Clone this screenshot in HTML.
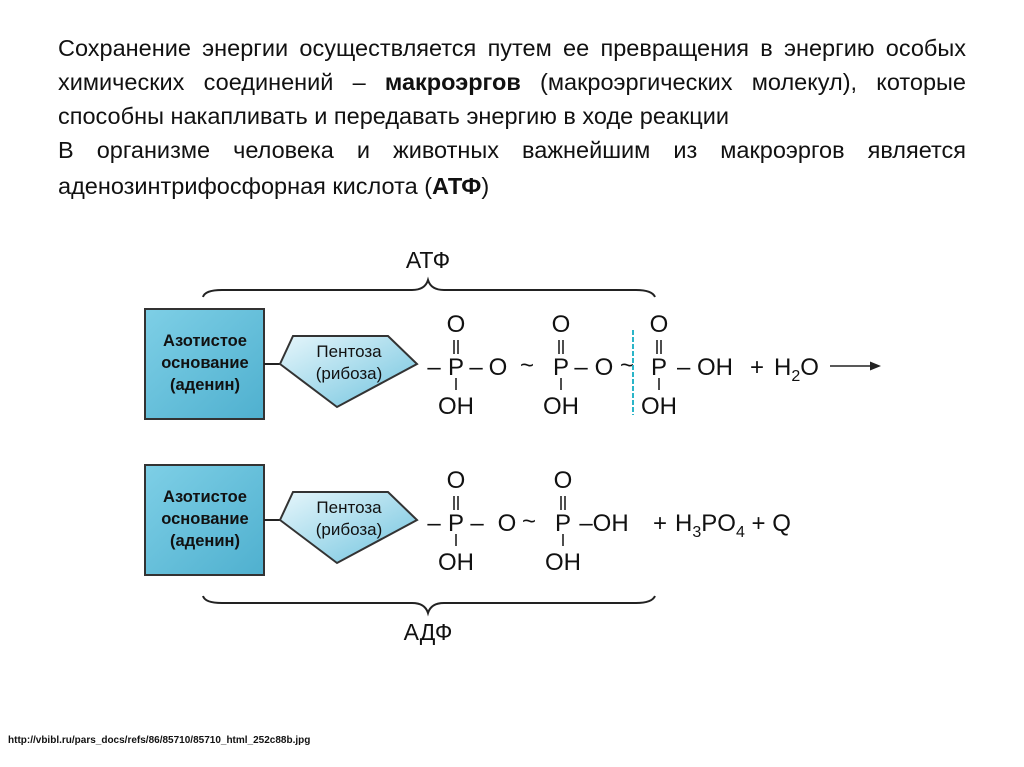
<!DOCTYPE html>
<html><head><meta charset="utf-8"><style>
body{margin:0;width:1024px;height:767px;background:#fff;overflow:hidden;font-family:"Liberation Sans",sans-serif}
.l{position:absolute;left:58px;width:908px;font-size:23.5px;line-height:34px;color:#111;white-space:nowrap}
.j{text-align:justify;text-align-last:justify;white-space:normal}
.url{position:absolute;left:8px;top:735px;font-size:10px;font-weight:bold;color:#111}
svg{position:absolute;left:0;top:0}
svg text{font-family:"Liberation Sans",sans-serif;fill:#111}
</style></head><body>
<div class="l j" style="top:31px">Сохранение энергии осуществляется путем ее превращения в энергию особых</div>
<div class="l j" style="top:65px">химических соединений – <b>макроэргов</b> (макроэргических молекул), которые</div>
<div class="l" style="top:99px">способны накапливать и передавать энергию в ходе реакции</div>
<div class="l j" style="top:133px">В организме человека и животных важнейшим из макроэргов является</div>
<div class="l" style="top:169px">аденозинтрифосфорная кислота (<b>АТФ</b>)</div>
<svg width="1024" height="767" viewBox="0 0 1024 767">
<defs><linearGradient id="g" x1="0" y1="0" x2="1" y2="1"><stop offset="0" stop-color="#7ecfe6"/><stop offset="1" stop-color="#4fb0cf"/></linearGradient>
<linearGradient id="g2" x1="0" y1="0" x2="1" y2="1"><stop offset="0" stop-color="#e6f6fb"/><stop offset="1" stop-color="#6fc3de"/></linearGradient></defs>
<g fill="none" stroke="#222" stroke-width="2">
<path d="M203 297 Q205 290 222 290 L412 290 Q425 290 428 280 Q431 290 444 290 L636 290 Q652 290 655 297"/>
<path d="M203 596 Q205 603 222 603 L412 603 Q425 603 428 613 Q431 603 444 603 L636 603 Q652 603 655 596"/>
</g>
<text x="428" y="268" font-size="23" text-anchor="middle">АТФ</text>
<text x="428" y="640" font-size="23" text-anchor="middle">АДФ</text>
<g id="r1">
<rect x="145" y="309" width="119" height="110" fill="url(#g)" stroke="#333" stroke-width="2"/>
<g font-size="16.5" text-anchor="middle" fill="#111" style="font-weight:bold" ><text x="205" y="346" fill="#1a2a33">Азотистое</text><text x="205" y="368" fill="#1a2a33">основание</text><text x="205" y="390" fill="#1a2a33">(аденин)</text></g>
<line x1="264" y1="364" x2="280" y2="364" stroke="#222" stroke-width="2"/>
<polygon points="280,364 293,336 388,336 417,364 337,407" fill="url(#g2)" stroke="#333" stroke-width="2"/>
<g font-size="17" text-anchor="middle"><text x="349" y="357">Пентоза</text><text x="349" y="379">(рибоза)</text></g>
</g>
<use href="#r1" y="156"/>
<g font-size="24" text-anchor="middle">
<text x="434" y="375">–</text>
<text x="456" y="375">P</text><text x="456" y="332">O</text><text x="456" y="414">OH</text>
<text x="476" y="375">–</text><text x="498" y="375">O</text><text x="527" y="373">~</text>
<text x="561" y="375">P</text><text x="561" y="332">O</text><text x="561" y="414">OH</text>
<text x="581" y="375">–</text><text x="604" y="375">O</text><text x="627" y="373">~</text>
<text x="659" y="375">P</text><text x="659" y="332">O</text><text x="659" y="414">OH</text>
<text x="705" y="375">– OH</text><text x="757" y="375">+</text>
<text x="774" y="375" text-anchor="start">H<tspan font-size="16" dy="6">2</tspan><tspan dy="-6">O</tspan></text>
<text x="434" y="531">–</text>
<text x="456" y="531">P</text><text x="456" y="488">O</text><text x="456" y="570">OH</text>
<text x="477" y="531">–</text><text x="507" y="531">O</text><text x="529" y="529">~</text>
<text x="563" y="531">P</text><text x="563" y="488">O</text><text x="563" y="570">OH</text>
<text x="604" y="531">–OH</text><text x="660" y="531">+</text>
<text x="675" y="531" text-anchor="start">H<tspan font-size="16" dy="6">3</tspan><tspan dy="-6">PO</tspan><tspan font-size="16" dy="6">4</tspan><tspan dy="-6"> + Q</tspan></text>
</g>
<g stroke="#222" stroke-width="1.6">
<line x1="454" y1="340" x2="454" y2="354"/><line x1="458" y1="340" x2="458" y2="354"/><line x1="456" y1="378" x2="456" y2="390"/>
<line x1="559" y1="340" x2="559" y2="354"/><line x1="563" y1="340" x2="563" y2="354"/><line x1="561" y1="378" x2="561" y2="390"/>
<line x1="657" y1="340" x2="657" y2="354"/><line x1="661" y1="340" x2="661" y2="354"/><line x1="659" y1="378" x2="659" y2="390"/>
<line x1="454" y1="496" x2="454" y2="510"/><line x1="458" y1="496" x2="458" y2="510"/><line x1="456" y1="534" x2="456" y2="546"/>
<line x1="561" y1="496" x2="561" y2="510"/><line x1="565" y1="496" x2="565" y2="510"/><line x1="563" y1="534" x2="563" y2="546"/>
<line x1="830" y1="366" x2="872" y2="366"/>
</g>
<polygon points="881,366 870,361.5 870,370.5" fill="#222"/>
<line x1="633" y1="330" x2="633" y2="415" stroke="#2bb5c8" stroke-width="2" stroke-dasharray="5,2"/>
</svg>
<div class="url">http://vbibl.ru/pars_docs/refs/86/85710/85710_html_252c88b.jpg</div>
</body></html>
